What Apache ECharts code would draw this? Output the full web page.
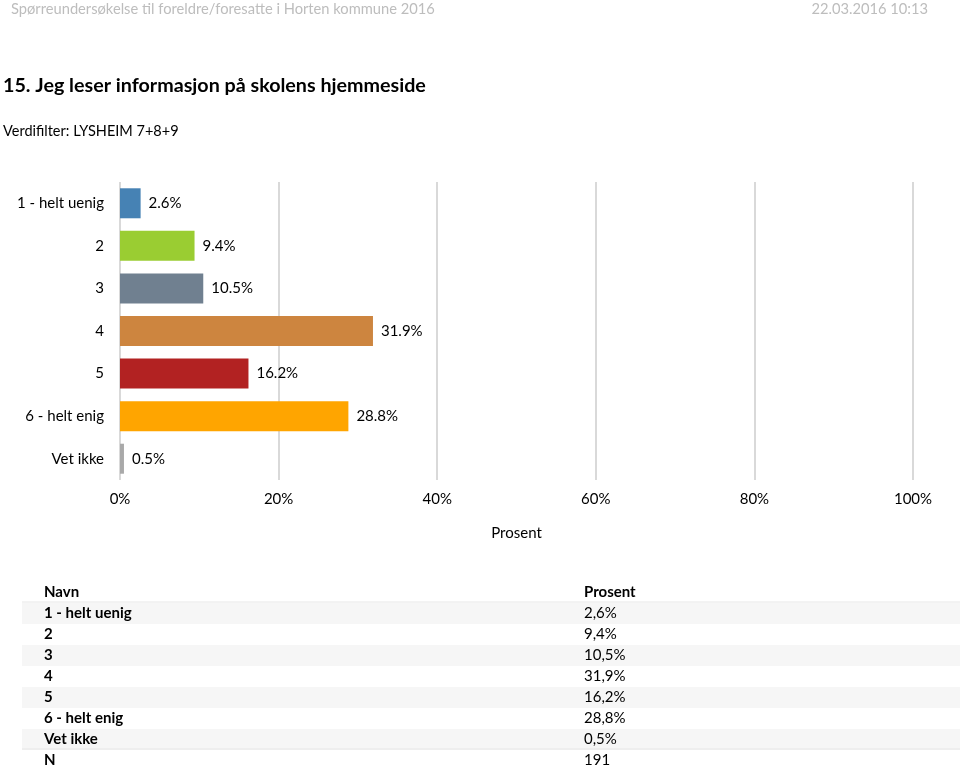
<!DOCTYPE html>
<html>
<head>
<meta charset="UTF-8">
<title>Jeg leser informasjon på skolens hjemmeside</title>
<script src="https://cdn.jsdelivr.net/npm/echarts@6/dist/echarts.min.js"></script>
<style>
	html, body { margin: 0; padding: 0; background: #fff; }
	#main { width: 960px; height: 769px; }
</style>
</head>
<body>
<div id="main"></div>
<script>
	// data
	var categories = ['1 - helt uenig', '2', '3', '4', '5', '6 - helt enig', 'Vet ikke'];
	var values = [2.6, 9.4, 10.5, 31.9, 16.2, 28.8, 0.5];
	var barColors = ['#4682B4', '#9ACD32', '#708090', '#CD853F', '#B22222', '#FFA500', '#A9A9A9'];
	var nCount = 191;

	var font = 'Lato, "Open Sans", sans-serif';

	function pct(v, sep) {
		return v.toFixed(1).replace('.', sep) + '%';
	}

	// table under the chart
	var table = [];
	var rowTop = 581, rowH = 21;
	var rows = [['Navn', 'Prosent']];
	for (var i = 0; i < categories.length; i++) {
		rows.push([categories[i], pct(values[i], ',')]);
	}
	rows.push(['N', String(nCount)]);
	for (var r = 0; r < rows.length; r++) {
		var y = rowTop + r * rowH;
		if (r % 2 == 1 && r < rows.length - 1) {
			table.push({ type: 'rect', shape: { x: 22, y: y + 1, width: 938, height: rowH }, style: { fill: '#f6f6f6' } });
		}
		table.push({
			type: 'text', x: 44, y: y + rowH / 2 + 1,
			style: { text: rows[r][0], font: 'bold 15px ' + font, fill: '#000', verticalAlign: 'middle' }
		});
		table.push({
			type: 'text', x: 584, y: y + rowH / 2 + 1,
			style: { text: rows[r][1], font: (r == 0 ? 'bold ' : '') + '15px ' + font, fill: '#000', verticalAlign: 'middle' }
		});
	}
	table.push({ type: 'line', shape: { x1: 22, y1: rowTop + rowH, x2: 960, y2: rowTop + rowH }, style: { stroke: '#e6e6e6', lineWidth: 1 } });
	table.push({ type: 'line', shape: { x1: 22, y1: rowTop + 8 * rowH, x2: 960, y2: rowTop + 8 * rowH }, style: { stroke: '#e6e6e6', lineWidth: 1 } });

	var myChart = echarts.init(document.getElementById('main'));
	var option = {
		animation: false,
		textStyle: { fontFamily: font },
		title: [{
			text: 'Spørreundersøkelse til foreldre/foresatte i Horten kommune 2016',
			left: 11, top: 2, padding: 0,
			textStyle: { fontSize: 14.7, fontWeight: 'normal', color: '#bdbdbd', fontFamily: font }
		}, {
			text: '22.03.2016 10:13',
			right: 32, top: 2, padding: 0,
			textStyle: { fontSize: 14.7, fontWeight: 'normal', color: '#bdbdbd', fontFamily: font }
		}, {
			text: '15. Jeg leser informasjon på skolens hjemmeside',
			left: 3, top: 76, padding: 0,
			textStyle: { fontSize: 19.7, fontWeight: 'bold', color: '#000', fontFamily: font }
		}, {
			text: 'Verdifilter: LYSHEIM 7+8+9',
			left: 3, top: 124, padding: 0,
			textStyle: { fontSize: 14.5, fontWeight: 'normal', color: '#000', fontFamily: font }
		}],
		grid: { left: 120, right: 47, top: 182, bottom: 289, containLabel: false },
		xAxis: {
			type: 'value', min: 0, max: 100, interval: 20,
			axisLine: { show: false },
			axisTick: { show: false },
			splitLine: { show: true, lineStyle: { color: '#d9d9d9', width: 2 } },
			axisLabel: { formatter: '{value}%', fontSize: 15, color: '#000', margin: 12 },
			name: 'Prosent', nameLocation: 'middle', nameGap: 46,
			nameTextStyle: { fontSize: 15, color: '#000' }
		},
		yAxis: {
			type: 'category', data: categories, inverse: true,
			axisLine: { show: false },
			axisTick: { show: false },
			axisLabel: { fontSize: 15, color: '#000', margin: 16 }
		},
		series: [{
			type: 'bar',
			data: values,
			barWidth: 30,
			itemStyle: {
				color: function (p) { return barColors[p.dataIndex]; }
			},
			label: {
				show: true, position: 'right', distance: 8,
				fontSize: 15, color: '#000',
				formatter: function (p) { return pct(p.value, '.'); }
			}
		}],
		graphic: table
	};
	myChart.setOption(option);
</script>
</body>
</html>
